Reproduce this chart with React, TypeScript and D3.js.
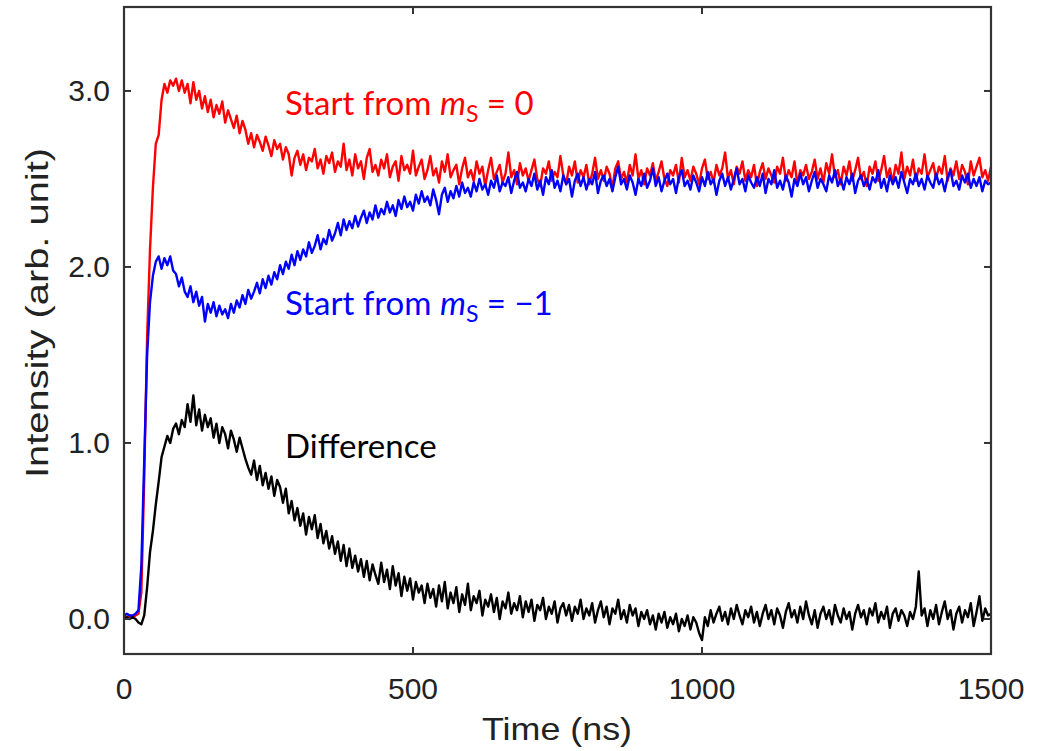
import React from "react";
import * as d3 from "d3";

const STEP_NS = 5;
const xTicks = [0, 500, 1000, 1500];
const yTicks = [0, 1, 2, 3];
const yTickLabels = ["0.0", "1.0", "2.0", "3.0"];

// Start from mS = 0 (red), sampled every 5 ns from 0 to 1500 ns
const redValues = [
  0.02, 0.01, 0.02, 0.01, 0.02, 0.03, 0.15, 0.8, 1.6, 2.1, 2.45, 2.7, 2.75, 2.95, 3.04, 2.99, 3.06, 3.03, 3.07, 3.0,
  3.06, 2.99, 3.04, 2.93, 3.05, 2.95, 3.0, 2.9, 2.97, 2.88, 2.95, 2.85, 2.92, 2.87, 2.94, 2.82, 2.89, 2.84, 2.79, 2.86,
  2.76, 2.83, 2.78, 2.7, 2.76, 2.68, 2.75, 2.71, 2.66, 2.74, 2.69, 2.63, 2.72, 2.67, 2.7, 2.61, 2.68, 2.64, 2.52, 2.62,
  2.66, 2.58, 2.64, 2.55, 2.62, 2.6, 2.67, 2.56, 2.61, 2.53, 2.63, 2.59, 2.65, 2.54, 2.6, 2.57, 2.7, 2.55, 2.61, 2.52,
  2.64, 2.56, 2.6, 2.5, 2.62, 2.67, 2.54, 2.58, 2.52, 2.61, 2.56, 2.64, 2.51, 2.57, 2.6, 2.49, 2.63, 2.55, 2.58, 2.53,
  2.66, 2.52, 2.57, 2.61, 2.5, 2.55, 2.63, 2.52, 2.56, 2.48, 2.6, 2.54, 2.64, 2.51, 2.55, 2.58, 2.47, 2.56, 2.62, 2.51,
  2.55, 2.49, 2.6, 2.53, 2.57, 2.46, 2.55, 2.62, 2.5, 2.54, 2.58, 2.48, 2.53, 2.65, 2.51, 2.55, 2.47, 2.59, 2.52, 2.56,
  2.49, 2.55, 2.61, 2.5, 2.46, 2.56, 2.53, 2.6, 2.49, 2.54, 2.51, 2.63, 2.52, 2.47, 2.57, 2.52, 2.6, 2.48, 2.55, 2.51,
  2.58, 2.47, 2.53, 2.62, 2.5, 2.55, 2.49, 2.57, 2.53, 2.45, 2.56, 2.6, 2.5, 2.54, 2.48, 2.58, 2.52, 2.64, 2.5, 2.55,
  2.47, 2.56, 2.52, 2.59, 2.49, 2.54, 2.6, 2.5, 2.46, 2.55, 2.52, 2.58, 2.48, 2.62, 2.51, 2.55, 2.49, 2.57, 2.53, 2.47,
  2.56, 2.61, 2.5, 2.54, 2.48, 2.58, 2.52, 2.56, 2.65, 2.5, 2.55, 2.47, 2.57, 2.53, 2.6, 2.49, 2.55, 2.51, 2.58, 2.46,
  2.54, 2.59, 2.5, 2.56, 2.52, 2.48, 2.57, 2.53, 2.62, 2.49, 2.55, 2.51, 2.6, 2.47, 2.55, 2.52, 2.58, 2.5, 2.54, 2.61,
  2.5, 2.56, 2.48, 2.59, 2.53, 2.64, 2.51, 2.55, 2.47, 2.57, 2.52, 2.6, 2.49, 2.55, 2.62, 2.5, 2.54, 2.46, 2.57, 2.53,
  2.6, 2.49, 2.55, 2.63, 2.51, 2.56, 2.48, 2.58, 2.53, 2.65, 2.5, 2.57, 2.52, 2.61, 2.49, 2.56, 2.53, 2.64, 2.51, 2.55,
  2.59, 2.5, 2.57, 2.53, 2.63, 2.49, 2.56, 2.52, 2.6, 2.5, 2.58, 2.54, 2.47, 2.6, 2.52, 2.57, 2.62, 2.51, 2.55, 2.49,
  2.57,
];

// Start from mS = -1 (blue)
const blueValues = [
  0.02, 0.03, 0.02, 0.02, 0.03, 0.05, 0.3, 0.9, 1.5, 1.8, 1.95, 2.03, 2.06, 1.99, 2.05, 2.01, 2.06, 1.98, 1.96, 1.89,
  1.94, 1.86, 1.83, 1.89, 1.8, 1.86, 1.78, 1.83, 1.69, 1.79, 1.74, 1.8, 1.72, 1.78, 1.73, 1.76, 1.71, 1.79, 1.74, 1.81,
  1.77, 1.84, 1.79, 1.87, 1.82, 1.86, 1.91, 1.85, 1.93, 1.88, 1.95, 1.9, 1.97, 1.93, 2.01, 1.96, 2.03, 1.99, 2.07, 2.01,
  2.09, 2.04, 2.1, 2.06, 2.14, 2.08, 2.12, 2.18, 2.1, 2.16, 2.13, 2.21, 2.15, 2.19, 2.25, 2.18, 2.27, 2.21, 2.26, 2.22,
  2.29, 2.23, 2.28, 2.32, 2.25, 2.31, 2.27, 2.35, 2.28, 2.33, 2.3, 2.37, 2.31, 2.35, 2.29, 2.38, 2.33, 2.4, 2.34, 2.37,
  2.32, 2.41, 2.36, 2.43, 2.37, 2.4, 2.35, 2.44, 2.38, 2.3, 2.41, 2.45, 2.37, 2.43, 2.39, 2.46, 2.4, 2.48, 2.42, 2.45,
  2.4, 2.48, 2.43, 2.5, 2.44, 2.47, 2.41, 2.49, 2.45, 2.52, 2.43, 2.48, 2.46, 2.51, 2.42, 2.49, 2.54, 2.45, 2.48, 2.43,
  2.5, 2.46, 2.53, 2.44, 2.49, 2.41, 2.51, 2.47, 2.55, 2.45, 2.49, 2.43, 2.52, 2.47, 2.5, 2.4, 2.49, 2.53, 2.46, 2.51,
  2.44, 2.5, 2.47, 2.54, 2.42, 2.49, 2.52, 2.46, 2.5, 2.43, 2.51, 2.57, 2.47, 2.5, 2.44, 2.52, 2.48, 2.41, 2.5, 2.46,
  2.53, 2.45, 2.49, 2.56, 2.46, 2.51, 2.43, 2.49, 2.53, 2.47, 2.5, 2.42, 2.51, 2.55, 2.46, 2.49, 2.44, 2.52, 2.48, 2.43,
  2.51, 2.46, 2.54, 2.47, 2.5, 2.41, 2.49, 2.53, 2.46, 2.51, 2.44, 2.5, 2.56, 2.47, 2.5, 2.43, 2.52, 2.48, 2.45, 2.51,
  2.46, 2.53, 2.42, 2.5, 2.47, 2.55, 2.45, 2.49, 2.44, 2.52, 2.48, 2.4, 2.5, 2.46, 2.53, 2.47, 2.51, 2.43, 2.49, 2.54,
  2.45, 2.5, 2.47, 2.43, 2.52, 2.48, 2.55, 2.46, 2.5, 2.44, 2.51, 2.47, 2.53, 2.42, 2.49, 2.52, 2.46, 2.5, 2.44, 2.51,
  2.48, 2.55, 2.45, 2.5, 2.43, 2.52, 2.47, 2.51, 2.45, 2.54, 2.48, 2.42, 2.5, 2.47, 2.53, 2.46, 2.5, 2.44, 2.52, 2.48,
  2.45, 2.53, 2.47, 2.5, 2.43, 2.51, 2.55, 2.46, 2.49, 2.44, 2.52, 2.48, 2.53, 2.45, 2.5, 2.46, 2.51, 2.43, 2.49, 2.47,
  2.48,
];

// Difference (black)
const diffValues = [
  0.0, 0.01, 0.0, 0.01, 0.0, -0.02, -0.03, 0.02, 0.18, 0.38, 0.5, 0.65, 0.78, 0.92, 0.98, 1.04, 1.0, 1.08, 1.11, 1.05,
  1.13, 1.09, 1.22, 1.12, 1.27, 1.1, 1.19, 1.07, 1.16, 1.09, 1.14, 1.03, 1.11, 1.0, 1.09, 1.05, 0.97, 1.07, 1.02, 0.95,
  1.03, 0.97, 0.91, 0.86, 0.82, 0.9, 0.79, 0.87, 0.76, 0.83, 0.74, 0.81, 0.7, 0.79, 0.75, 0.66, 0.74, 0.6, 0.67, 0.56,
  0.63, 0.53, 0.6, 0.48, 0.58, 0.51, 0.59, 0.46, 0.54, 0.43, 0.5, 0.4, 0.47, 0.37, 0.44, 0.33, 0.42, 0.3, 0.4, 0.29,
  0.36, 0.27, 0.34, 0.24, 0.33, 0.22, 0.31, 0.25, 0.2, 0.32, 0.21, 0.28, 0.17, 0.3, 0.19, 0.26, 0.13, 0.24, 0.16, 0.23,
  0.11, 0.21, 0.15, 0.19, 0.09, 0.2, 0.12, 0.17, 0.07, 0.19, 0.1, 0.21, 0.06, 0.15, 0.09, 0.18, 0.04, 0.14, 0.08, 0.2,
  0.05, 0.13, 0.09, 0.16, 0.02, 0.11, 0.07, 0.14, 0.04, 0.12, 0.0, 0.1, 0.06, 0.15, 0.03, 0.09, 0.05, 0.13, 0.01, 0.1,
  0.04, 0.11, -0.01, 0.08, 0.05, 0.12, 0.0, 0.07, 0.03, 0.1, -0.02, 0.06, 0.09, 0.02, 0.08, -0.01, 0.07, 0.03, 0.11, 0.0,
  0.06, 0.02, 0.09, -0.02, 0.05, 0.1, 0.01, 0.07, -0.03, 0.06, 0.03, 0.11, 0.0, 0.05, -0.02, 0.08, 0.02, 0.06, -0.04, 0.04,
  0.0, 0.05, -0.03, 0.02, -0.06, 0.03, -0.02, 0.04, -0.05, 0.01, -0.03, 0.03, -0.07, 0.0, -0.04, 0.02, -0.06, 0.01, -0.02, -0.08,
  -0.12, 0.01, -0.04, 0.05, -0.02, 0.03, 0.07, -0.01, 0.04, -0.03, 0.06, 0.0, 0.08, 0.02, -0.03, 0.05, 0.01, 0.07, -0.02, 0.04,
  -0.04, 0.03, 0.08, 0.0, 0.05, -0.03, 0.06, 0.02, -0.05, 0.04, 0.09, 0.01, 0.05, -0.02, 0.07, 0.0, 0.1, 0.02, -0.03, 0.05,
  -0.05, 0.03, 0.07, 0.0, 0.05, -0.03, 0.08, 0.02, -0.02, 0.06, 0.0, 0.04, -0.06, 0.03, 0.08, 0.01, 0.05, -0.03, 0.06, 0.02,
  0.09, -0.02, 0.04, 0.0, 0.07, -0.05, 0.03, 0.06, -0.01, 0.05, 0.02, -0.04, 0.04, 0.0, 0.07, 0.27, 0.02, 0.06, -0.04, 0.05,
  0.0, 0.08, -0.03, 0.04, 0.1, 0.0, 0.05, -0.06, 0.03, 0.07, -0.02, 0.05, 0.01, 0.09, -0.04, 0.04, 0.13, -0.01, 0.06, 0.02,
  0.03,
];

const W = 1048;
const H = 751;
const M = { left: 124, right: 991, top: 7, bottom: 654 };

export default function App() {
  const x = d3.scaleLinear().domain([0, 1500]).range([M.left, M.right]);
  const y = d3.scaleLinear().domain([-0.199, 3.477]).range([M.bottom, M.top]);
  const line = d3
    .line<number>()
    .x((_, i) => x(i * STEP_NS))
    .y((d) => y(d));

  const axisColor = "#333";
  const tickLen = 7;
  const tickFont = "'Liberation Sans', Arial, sans-serif";
  const annoFont = "Lato, 'Open Sans', sans-serif";

  return (
    <svg
      width={W}
      height={H}
      style={{ position: "absolute", left: 0, top: 0, background: "#fff" }}
    >
      <defs>
        <clipPath id="plotClip">
          <rect x={M.left} y={M.top} width={M.right - M.left} height={M.bottom - M.top} />
        </clipPath>
      </defs>
      <g clipPath="url(#plotClip)" fill="none" strokeWidth={2.4} strokeLinejoin="round">
        <path d={line(redValues) || ""} stroke="#ff0000" />
        <path d={line(blueValues) || ""} stroke="#0000ff" />
        <path d={line(diffValues) || ""} stroke="#000" />
      </g>
      {/* frame */}
      <rect
        x={M.left}
        y={M.top}
        width={M.right - M.left}
        height={M.bottom - M.top}
        fill="none"
        stroke={axisColor}
        strokeWidth={2.2}
      />
      {/* ticks */}
      {xTicks.map((t) => (
        <g key={"xt" + t}>
          <line x1={x(t)} x2={x(t)} y1={M.bottom} y2={M.bottom - tickLen} stroke={axisColor} strokeWidth={2} />
          <line x1={x(t)} x2={x(t)} y1={M.top} y2={M.top + tickLen} stroke={axisColor} strokeWidth={2} />
          <text x={x(t)} y={699} textAnchor="middle" fontFamily={tickFont} fontSize={30} fill="#222">
            {t}
          </text>
        </g>
      ))}
      {yTicks.map((t, i) => (
        <g key={"yt" + t}>
          <line x1={M.left} x2={M.left + tickLen} y1={y(t)} y2={y(t)} stroke={axisColor} strokeWidth={2} />
          <line x1={M.right} x2={M.right - tickLen} y1={y(t)} y2={y(t)} stroke={axisColor} strokeWidth={2} />
          <text x={110} y={y(t) + 10.5} textAnchor="end" fontFamily={tickFont} fontSize={30} fill="#222">
            {yTickLabels[i]}
          </text>
        </g>
      ))}
      {/* axis titles */}
      <text
        x={557}
        y={740}
        textAnchor="middle"
        fontFamily={tickFont}
        fontSize={32}
        fill="#222"
        textLength={150}
        lengthAdjust="spacingAndGlyphs"
      >
        Time (ns)
      </text>
      <text
        transform={`translate(48, 313) rotate(-90)`}
        textAnchor="middle"
        fontFamily={tickFont}
        fontSize={32}
        fill="#222"
        textLength={330}
        lengthAdjust="spacingAndGlyphs"
      >
        Intensity (arb. unit)
      </text>
      {/* annotations */}
      <text x={285} y={115} fontFamily={annoFont} fontSize={33} fill="#ff0000">
        Start from <tspan fontStyle="italic">m</tspan>
        <tspan fontSize={23} dy={7}>S</tspan>
        <tspan dy={-7}> = 0</tspan>
      </text>
      <text x={285} y={315} fontFamily={annoFont} fontSize={33} fill="#0000ff">
        Start from <tspan fontStyle="italic">m</tspan>
        <tspan fontSize={23} dy={7}>S</tspan>
        <tspan dy={-7}> = −1</tspan>
      </text>
      <text x={285} y={458} fontFamily={annoFont} fontSize={33} fill="#000">
        Difference
      </text>
    </svg>
  );
}
